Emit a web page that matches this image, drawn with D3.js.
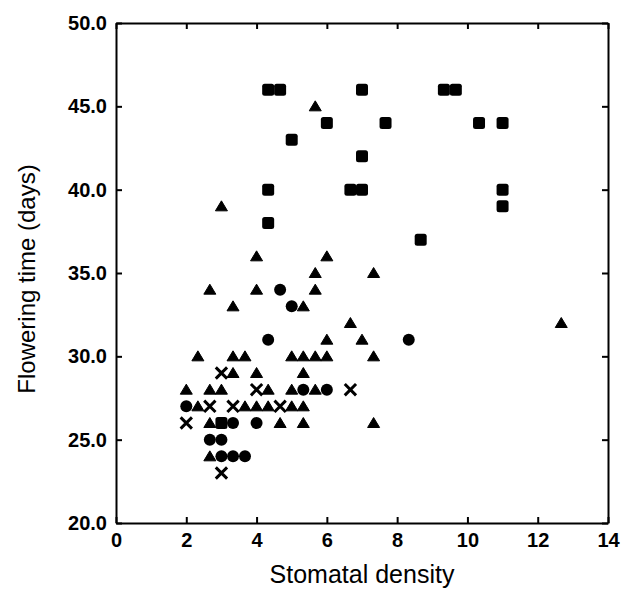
<!DOCTYPE html>
<html>
<head>
<meta charset="utf-8">
<script src="https://cdn.jsdelivr.net/npm/d3@7"></script>
<style>
  body { margin: 0; background: #fff; }
  text { font-family: "Liberation Sans", Arial, Helvetica, sans-serif; fill: #000; }
</style>
</head>
<body>
<div id="chart"></div>
<script>
// stomatal density (x) and flowering time in days (y), one list per marker group
var squares = [
  [4.33, 46], [4.67, 46], [7, 46], [9.33, 46], [9.67, 46],
  [6, 44], [7.67, 44], [10.33, 44], [11, 44],
  [5, 43], [7, 42],
  [4.33, 40], [6.67, 40], [7, 40], [11, 40],
  [11, 39], [4.33, 38], [8.67, 37], [3, 26]
];
var triangles = [
  [5.67, 45], [3, 39], [4, 36], [6, 36], [5.67, 35], [7.33, 35],
  [2.67, 34], [4, 34], [5.67, 34], [3.33, 33], [5.33, 33],
  [6.67, 32], [12.67, 32], [6, 31], [7, 31],
  [2.33, 30], [3.33, 30], [3.67, 30], [5, 30], [5.33, 30], [5.67, 30], [6, 30], [7.33, 30],
  [3.33, 29], [4, 29], [5.33, 29],
  [2, 28], [2.67, 28], [3, 28], [4.33, 28], [5, 28], [5.67, 28],
  [2.33, 27], [3.67, 27], [4, 27], [4.33, 27], [5, 27], [5.33, 27],
  [2.67, 26], [4.67, 26], [5.33, 26], [7.33, 26],
  [2.67, 24]
];
var circles = [
  [4.67, 34], [5, 33], [4.33, 31], [8.33, 31], [5.33, 28], [6, 28],
  [2, 27], [3.33, 26], [4, 26], [2.67, 25], [3, 25],
  [3, 24], [3.33, 24], [3.67, 24]
];
var crosses = [
  [3, 29], [4, 28], [6.67, 28], [2.67, 27], [3.33, 27], [4.67, 27],
  [2, 26], [3, 23]
];
var xTicks = [0, 2, 4, 6, 8, 10, 12, 14];
var yTicks = [20, 25, 30, 35, 40, 45, 50];

var margin = { top: 23, right: 15, bottom: 66, left: 116 },
  width = 623 - margin.left - margin.right,
  height = 589 - margin.top - margin.bottom;

var svg = d3.select("#chart")
  .append("svg")
  .attr("width", 623)
  .attr("height", 589)
  .append("g")
  .attr("transform", "translate(" + margin.left + "," + margin.top + ")");

var x = d3.scaleLinear().domain([0, 14]).range([0, width]);
var y = d3.scaleLinear().domain([20, 50]).range([height, 0]);

// axes with inward ticks on all four sides
function styleAxis(g) {
  g.select(".domain").attr("stroke-width", 2);
  g.selectAll(".tick line").attr("stroke-width", 2);
  g.selectAll("text")
    .style("font-size", "20px")
    .style("font-weight", "bold")
    .attr("fill", "#000");
}

svg.append("g")
  .attr("transform", "translate(0," + height + ")")
  .call(d3.axisBottom(x).tickValues(xTicks).tickSize(-6).tickSizeOuter(0).tickPadding(10))
  .call(styleAxis);

svg.append("g")
  .call(d3.axisTop(x).tickValues(xTicks).tickSize(-6).tickSizeOuter(0).tickFormat(""))
  .call(styleAxis);

svg.append("g")
  .call(d3.axisLeft(y).tickValues(yTicks).tickSize(-6).tickSizeOuter(0).tickPadding(9).tickFormat(d3.format(".1f")))
  .call(styleAxis);

svg.append("g")
  .attr("transform", "translate(" + width + ",0)")
  .call(d3.axisRight(y).tickValues(yTicks).tickSize(-6).tickSizeOuter(0).tickFormat(""))
  .call(styleAxis);

// axis titles
svg.append("text")
  .attr("x", width / 2)
  .attr("y", height + 60)
  .attr("text-anchor", "middle")
  .style("font-size", "25px")
  .text("Stomatal density");

svg.append("text")
  .attr("transform", "translate(" + (-81) + "," + (height / 2 + 6) + ") rotate(-90)")
  .attr("text-anchor", "middle")
  .style("font-size", "24px")
  .text("Flowering time (days)");

// markers
svg.selectAll(".sq")
  .data(squares)
  .enter()
  .append("rect")
  .attr("class", "sq")
  .attr("x", function (d) { return x(d[0]) - 6; })
  .attr("y", function (d) { return y(d[1]) - 6; })
  .attr("width", 12)
  .attr("height", 12)
  .attr("rx", 2.5)
  .attr("fill", "#000");

svg.selectAll(".ci")
  .data(circles)
  .enter()
  .append("circle")
  .attr("class", "ci")
  .attr("cx", function (d) { return x(d[0]); })
  .attr("cy", function (d) { return y(d[1]); })
  .attr("r", 6)
  .attr("fill", "#000");

svg.selectAll(".tr")
  .data(triangles)
  .enter()
  .append("path")
  .attr("class", "tr")
  .attr("d", function (d) {
    var cx = x(d[0]), cy = y(d[1]);
    return "M" + cx + "," + (cy - 5.5) + "L" + (cx + 6) + "," + (cy + 4.5) + "L" + (cx - 6) + "," + (cy + 4.5) + "Z";
  })
  .attr("fill", "#000")
  .attr("stroke", "#000")
  .attr("stroke-width", 1)
  .attr("stroke-linejoin", "round");

svg.selectAll(".cr")
  .data(crosses)
  .enter()
  .append("path")
  .attr("class", "cr")
  .attr("d", d3.symbol().type(d3.symbolX).size(85))
  .attr("transform", function (d) { return "translate(" + x(d[0]) + "," + y(d[1]) + ")"; })
  .attr("fill", "none")
  .attr("stroke", "#000")
  .attr("stroke-width", 3);
</script>
</body>
</html>
